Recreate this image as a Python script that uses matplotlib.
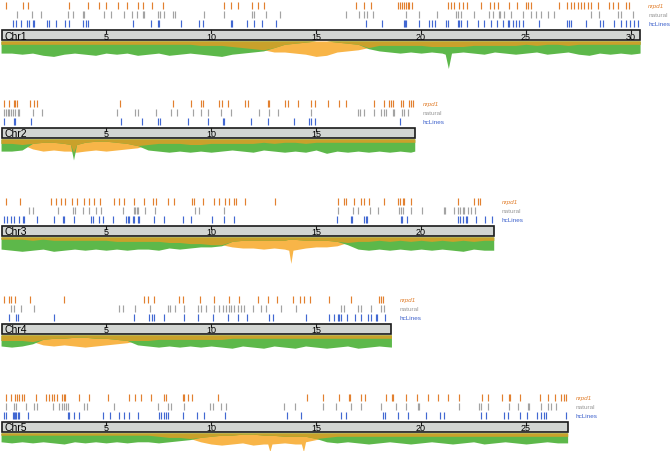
import numpy as np
import matplotlib
matplotlib.use('Agg')
import matplotlib.pyplot as plt

plt.rcParams['font.family'] = ['Liberation Sans', 'DejaVu Sans']

# chromosome names and lengths (Mb)
chrom_names = ['Chr1', 'Chr2', 'Chr3', 'Chr4', 'Chr5']
chrom_len = [30.43, 19.70, 23.46, 18.59, 26.98]
track_names = ['nrpd1', 'natural', 'hcLines']

# positions of the marks in each track (Mb)
nrpd1 = [
    [0.24, 1.05, 1.29, 3.24, 4.14, 4.67, 5.0, 5.57, 6.0, 6.52, 6.76, 7.19, 7.71, 10.62, 10.95, 11.29,
     11.95, 12.24, 12.52, 16.9, 17.29, 17.62, 18.9, 19.0, 19.1, 19.19, 19.29, 19.38, 19.43, 19.57,
     21.29, 21.43, 21.57, 21.81, 22.0, 22.19, 22.86, 23.29, 23.48, 23.67, 24.19, 24.57, 25.0, 25.1,
     25.24, 26.57, 26.95, 27.14, 27.29, 27.48, 27.62, 27.76, 27.95, 28.1, 28.43, 28.95, 29.14,
     29.38, 29.76, 29.9],
    [0.14, 0.38, 0.62, 0.67, 0.76, 1.38, 1.57, 1.71, 5.67, 8.19, 9.05, 9.52, 9.62, 10.38, 10.52,
     10.81, 11.62, 11.76, 12.71, 12.76, 13.52, 13.67, 14.14, 14.76, 14.95, 15.57, 16.1, 16.43,
     17.76, 18.24, 18.48, 18.57, 18.67, 19.05, 19.14, 19.43, 19.52, 19.62],
    [0.24, 0.9, 2.38, 2.62, 2.86, 3.05, 3.38, 3.62, 3.95, 4.19, 4.43, 4.71, 5.38, 5.62, 5.86, 6.33,
     6.81, 7.24, 7.38, 7.95, 8.24, 9.1, 9.19, 9.62, 10.14, 10.38, 10.67, 10.86, 11.1, 11.19, 11.62,
     13.05, 16.05, 16.33, 16.43, 16.81, 17.14, 17.29, 17.52, 18.24, 18.9, 19.0, 19.14, 19.19,
     19.52, 21.76, 22.52, 22.71, 22.81],
    [0.14, 0.38, 0.48, 0.67, 1.38, 3.0, 6.81, 7.0, 7.29, 8.48, 8.67, 9.48, 10.14, 10.86, 11.33,
     12.24, 12.71, 13.14, 13.9, 14.24, 14.43, 14.71, 15.62, 16.67, 18.0, 18.1, 18.19],
    [0.24, 0.48, 0.67, 0.76, 0.86, 1.0, 1.1, 1.67, 2.14, 2.29, 2.43, 2.52, 2.67, 2.9, 3.0, 3.05,
     3.71, 4.19, 5.1, 6.1, 6.38, 6.67, 7.14, 7.76, 7.86, 8.67, 8.71, 8.9, 9.1, 10.33, 14.57, 15.33,
     16.1, 16.57, 16.62, 17.14, 17.33, 18.33, 18.62, 18.67, 19.29, 19.81, 20.33, 20.81, 21.29,
     21.81, 22.9, 23.19, 23.86, 24.19, 24.24, 24.71, 25.67, 26.05, 26.38, 26.67, 26.81, 26.9],
]

natural = [
    [0.76, 1.48, 1.9, 3.19, 3.43, 3.9, 3.95, 4.9, 5.24, 5.86, 6.24, 6.48, 6.76, 6.81, 7.48, 7.57,
     7.76, 8.19, 8.29, 9.67, 10.62, 11.95, 12.05, 12.62, 13.29, 16.43, 17.05, 17.29, 17.43, 17.71,
     19.29, 19.9, 20.76, 21.67, 21.76, 21.9, 22.52, 23.24, 23.43, 23.71, 23.76, 23.95, 24.29,
     24.86, 25.24, 25.48, 25.71, 26.05, 26.33, 28.1, 28.48, 29.38, 29.52, 30.1],
    [0.14, 0.24, 0.33, 0.38, 0.48, 0.57, 0.67, 0.81, 0.86, 1.52, 1.95, 5.52, 6.38, 6.52, 7.38,
     8.1, 8.38, 9.14, 9.52, 9.86, 10.48, 10.95, 12.29, 12.76, 13.19, 14.76, 17.0, 17.1, 17.29,
     17.76, 18.1, 18.24, 18.33, 18.67, 18.71, 19.1, 19.19, 19.38],
    [1.33, 1.52, 2.71, 3.43, 3.52, 3.9, 4.19, 4.52, 4.76, 5.81, 6.33, 6.38, 6.48, 6.52, 6.86, 7.33,
     9.24, 9.43, 10.62, 16.05, 16.76, 17.0, 17.57, 17.95, 18.95, 19.05, 19.14, 19.52, 20.05, 21.1,
     21.14, 21.57, 21.76, 21.86, 22.0, 22.05, 22.24, 22.38, 22.57],
    [0.48, 0.62, 0.95, 1.57, 5.62, 5.81, 6.38, 7.1, 7.95, 8.05, 8.29, 8.71, 9.38, 9.52, 9.76,
     10.14, 10.38, 10.57, 10.71, 10.86, 10.95, 11.1, 11.29, 11.43, 11.57, 12.0, 12.38, 12.62,
     13.33, 14.05, 16.19, 16.33, 17.0, 17.14, 17.62, 18.1, 18.24],
    [0.24, 0.62, 0.71, 1.19, 1.57, 1.71, 2.48, 2.76, 2.9, 3.0, 3.1, 3.19, 3.95, 4.1, 5.38, 7.48,
     7.95, 8.1, 8.71, 9.95, 10.1, 10.48, 10.71, 13.48, 14.0, 15.33, 15.95, 16.67, 17.14, 18.1,
     18.81, 19.29, 19.86, 19.9, 21.81, 22.76, 22.86, 23.19, 24.19, 24.62, 25.1, 25.14, 25.71,
     26.05, 26.19, 26.43],
]

hclines = [
    [0.57, 0.71, 0.95, 1.24, 1.33, 1.52, 1.57, 2.19, 2.29, 2.62, 3.05, 3.24, 3.9, 4.05, 4.14, 6.29,
     7.14, 7.48, 7.52, 8.57, 9.43, 9.62, 10.95, 11.0, 11.71, 12.05, 12.43, 13.1, 17.38, 18.14,
     19.19, 19.24, 19.29, 19.9, 20.38, 20.52, 20.67, 21.19, 21.29, 21.76, 21.81, 21.9, 22.19,
     22.71, 23.0, 23.33, 23.62, 23.9, 24.14, 24.19, 24.38, 24.52, 24.67, 24.86, 25.62, 26.95,
     27.05, 27.14, 27.86, 28.52, 28.67, 29.19, 29.52, 29.76, 29.95, 30.14, 30.33],
    [0.14, 0.62, 0.67, 1.43, 5.71, 6.71, 7.48, 7.57, 8.9, 9.86, 10.57, 10.6, 11.9, 12.71, 13.95,
     14.67, 14.76, 14.95, 19.0],
    [0.14, 0.29, 0.48, 0.62, 0.86, 1.05, 1.1, 1.71, 2.52, 2.95, 3.0, 3.48, 4.29, 4.38, 4.67, 4.86,
     5.33, 5.95, 6.05, 6.1, 6.29, 6.33, 6.52, 6.57, 7.29, 7.76, 8.67, 9.05, 10.05, 10.62, 11.1,
     16.0, 16.67, 16.71, 17.29, 17.38, 17.43, 19.05, 19.1, 19.33, 21.76, 21.86, 22.0, 22.14,
     22.19, 22.62, 23.05, 23.38],
    [0.38, 0.71, 0.81, 2.52, 6.33, 7.05, 7.19, 7.29, 7.76, 8.71, 9.38, 10.1, 10.81, 11.29, 11.71,
     12.76, 12.95, 14.52, 15.62, 15.86, 16.05, 16.1, 16.19, 16.48, 16.86, 17.14, 17.48, 17.62,
     17.86, 17.9, 18.29],
    [0.14, 0.24, 0.57, 0.62, 0.67, 0.71, 0.81, 0.86, 1.29, 3.19, 3.24, 3.48, 3.71, 4.86, 5.19,
     5.62, 5.86, 6.1, 6.52, 7.52, 7.62, 7.76, 7.86, 7.95, 8.67, 9.33, 9.67, 10.67, 13.62, 14.29,
     16.19, 16.43, 18.19, 18.29, 18.9, 19.38, 20.24, 20.9, 21.1, 22.86, 23.1, 23.95, 24.14, 24.71,
     25.05, 25.52, 25.71, 25.86, 25.95, 26.9],
]

# density profiles under each chromosome: position (Mb), gene density, TE density
chr1_pos = [0, 0.5, 1, 1.5, 2, 2.5, 3, 3.5, 4, 4.5, 5, 5.5, 6, 6.5, 7, 7.5, 8, 8.5, 9, 9.5, 10,
            10.5, 11, 11.5, 12, 12.5, 13, 13.5, 14, 14.5, 15, 15.5, 16, 16.5, 17, 17.5, 18, 18.5,
            19, 19.5, 20, 20.5, 21, 21.15, 21.3, 21.45, 22, 22.5, 23, 23.5, 24, 24.5, 25, 25.5,
            26, 26.5, 27, 27.5, 28, 28.5, 29, 29.5, 30, 30.43]
chr1_gene = [11, 11, 12, 11, 13, 14, 12, 11, 12, 13, 11, 12, 11, 13, 12, 11, 13, 12, 11, 12, 13,
             14, 12, 11, 10, 9, 6, 3, 2, 1, 0, 0, 1, 2, 3, 7, 9, 10, 11, 10, 11, 10, 11, 12, 25,
             11, 10, 11, 12, 10, 11, 12, 11, 10, 12, 11, 10, 12, 13, 11, 12, 11, 12, 11]
chr1_te = [3, 3, 3, 3, 3, 3, 3, 3, 3, 3, 3, 3, 3, 3, 3, 3, 3, 3, 3, 4, 4, 4, 5, 6, 7, 8, 10, 10,
           11, 12, 14, 13, 10, 9, 8, 6, 4, 4, 4, 4, 4, 5, 5, 5, 5, 5, 5, 4, 4, 4, 4, 4, 3, 4, 3,
           3, 4, 3, 3, 3, 3, 3, 3, 3]

chr2_pos = [0, 0.5, 1, 1.5, 2, 2.5, 3, 3.3, 3.45, 3.6, 4, 4.5, 5, 5.5, 6, 6.5, 7, 7.5, 8, 8.5, 9,
            9.5, 10, 10.5, 11, 11.5, 12, 12.5, 13, 13.5, 14, 14.5, 15, 15.5, 16, 16.5, 17, 17.5,
            18, 18.5, 19, 19.5, 19.7]
chr2_gene = [11, 11, 10, 4, 3, 3, 4, 5, 19, 5, 3, 2, 2, 3, 4, 6, 10, 11, 12, 11, 12, 11, 12, 11,
             10, 11, 12, 10, 11, 12, 11, 12, 10, 13, 11, 12, 11, 12, 11, 12, 11, 12, 11]
chr2_te = [4, 4, 5, 9, 11, 10, 11, 11, 12, 12, 11, 10, 11, 10, 9, 8, 5, 4, 4, 4, 5, 5, 4, 4, 4,
           4, 4, 3, 4, 3, 3, 4, 3, 3, 3, 3, 3, 3, 3, 3, 3, 3, 3]

chr3_pos = [0, 0.5, 1, 1.5, 2, 2.5, 3, 3.5, 4, 4.5, 5, 5.5, 6, 6.5, 7, 7.5, 8, 8.5, 9, 9.5, 10,
            10.5, 11, 11.5, 12, 12.5, 13, 13.5, 13.7, 13.8, 13.9, 14.5, 15, 15.5, 16, 16.5, 17,
            17.5, 18, 18.5, 19, 19.5, 20, 20.5, 21, 21.5, 22, 22.5, 23, 23.46]
chr3_gene = [11, 12, 13, 12, 11, 13, 12, 11, 12, 11, 12, 11, 12, 11, 11, 12, 10, 11, 10, 9, 9, 8,
             4, 3, 3, 3, 3, 3, 2, 2, 2, 3, 3, 3, 4, 7, 11, 12, 11, 12, 11, 12, 11, 12, 11, 12, 13,
             11, 12, 12]
chr3_te = [2, 2, 2, 3, 2, 3, 3, 3, 3, 3, 3, 4, 4, 4, 4, 4, 5, 5, 6, 6, 7, 7, 9, 10, 10, 11, 10,
           11, 12, 24, 12, 10, 9, 9, 8, 5, 4, 4, 3, 4, 3, 4, 3, 4, 3, 4, 3, 4, 3, 3]

chr4_pos = [0, 0.5, 1, 1.5, 2, 2.5, 3, 3.5, 4, 4.5, 5, 5.5, 6, 6.5, 7, 7.5, 8, 8.5, 9, 9.5, 10,
            10.5, 11, 11.5, 12, 12.5, 13, 13.5, 14, 14.5, 15, 15.5, 16, 16.5, 17, 17.5, 18,
            18.59]
chr4_gene = [10, 11, 10, 8, 4, 3, 3, 2, 2, 3, 3, 4, 5, 9, 10, 11, 10, 11, 10, 11, 10, 11, 12,
             10, 11, 12, 10, 11, 12, 10, 11, 12, 11, 10, 12, 11, 10, 11]
chr4_te = [5, 5, 5, 6, 9, 10, 9, 10, 11, 10, 9, 8, 7, 5, 5, 4, 4, 4, 4, 4, 4, 4, 3, 3, 3, 3, 3,
           3, 3, 3, 3, 3, 3, 3, 3, 3, 3, 3]

chr5_pos = [0, 0.5, 1, 1.5, 2, 2.5, 3, 3.5, 4, 4.5, 5, 5.5, 6, 6.5, 7, 7.5, 8, 8.5, 9, 9.5, 10,
            10.5, 11, 11.5, 12, 12.5, 12.7, 12.8, 12.9, 13.5, 14, 14.3, 14.4, 14.5, 15, 15.5,
            16, 16.5, 17, 17.5, 18, 18.5, 19, 19.5, 20, 20.5, 21, 21.5, 22, 22.5, 23, 23.5, 24,
            24.5, 25, 25.5, 26, 26.5, 26.98]
chr5_gene = [8, 9, 8, 9, 8, 9, 10, 8, 9, 8, 9, 8, 9, 8, 8, 9, 8, 7, 6, 4, 3, 2, 2, 1, 1, 2, 2,
             2, 2, 3, 3, 3, 3, 3, 5, 8, 9, 8, 9, 10, 9, 8, 9, 10, 9, 8, 9, 10, 9, 8, 10, 9, 8, 9,
             10, 9, 8, 9, 9]
chr5_te = [2, 2, 2, 2, 2, 2, 2, 2, 2, 2, 2, 2, 2, 2, 2, 3, 4, 4, 5, 8, 10, 11, 10, 9, 11, 10,
           10, 17, 10, 9, 10, 10, 17, 8, 6, 4, 3, 3, 3, 3, 3, 3, 3, 3, 3, 3, 3, 3, 3, 3, 3, 3, 3,
           3, 3, 3, 3, 3, 3]

profile_pos = [chr1_pos, chr2_pos, chr3_pos, chr4_pos, chr5_pos]
profile_gene = [chr1_gene, chr2_gene, chr3_gene, chr4_gene, chr5_gene]
profile_te = [chr1_te, chr2_te, chr3_te, chr4_te, chr5_te]

# colours
track_colors = ['#E2802F', '#A3A3A3', '#4268D2']
label_colors = ['#E2802F', '#9A9A9A', '#3E62CC']
gene_color = '#5DB84A'
te_color = '#F8B548'
both_color = '#C9A12B'
bar_color = '#D2D5D2'

mb_px = 21.0  # pixels per Mb in the reference


def main():
    fig = plt.figure(figsize=(6.7, 4.52), dpi=100)
    ax = fig.add_axes([0, 0, 1, 1])
    ax.set_xlim(-0.05, 670 / mb_px - 0.05)
    ax.set_ylim(452, 0)
    ax.axis('off')

    tracks = [nrpd1, natural, hclines]
    track_y = [(3, 10), (12, 19), (21, 28)]
    label_y = [6.5, 15.5, 24.5]

    for i in range(len(chrom_names)):
        off = i * 98
        length = chrom_len[i]

        # marks
        for t in range(3):
            y0, y1 = track_y[t]
            ax.vlines(tracks[t][i], off + y0, off + y1, color=track_colors[t], lw=0.85)
            style = 'italic' if t == 0 else 'normal'
            ax.text(length + 8 / mb_px, off + label_y[t], track_names[t], color=label_colors[t],
                    fontsize=4.6, style=style, va='center', ha='left')

        # chromosome bar
        ax.add_patch(plt.Rectangle((0.03, off + 31), length - 0.03, 10, facecolor=bar_color,
                                   edgecolor='#1a1a1a', lw=1.2, zorder=3))
        ax.text(0.15, off + 36.5, chrom_names[i], fontsize=7.5, va='center', ha='left', zorder=4)
        for tk in range(5, int(length) + 1, 5):
            ax.plot([tk, tk], [off + 31, off + 33.5], color='#1a1a1a', lw=0.8, zorder=4)
            ax.text(tk, off + 37, str(tk), fontsize=6.5, va='center', ha='center', zorder=4)

        # density profile
        pos = np.array(profile_pos[i])
        gene = np.array(profile_gene[i], dtype=float) * 1.1
        te = np.array(profile_te[i], dtype=float) * 1.1
        base = off + 42
        ax.fill_between(pos, base, base + te, color=te_color, lw=0)
        ax.fill_between(pos, base, base + gene, color=gene_color, lw=0)
        ax.fill_between(pos, base, base + np.minimum(gene, te), color=both_color, lw=0)

    plt.savefig('out.png', dpi=100)


if __name__ == '__main__':
    main()
